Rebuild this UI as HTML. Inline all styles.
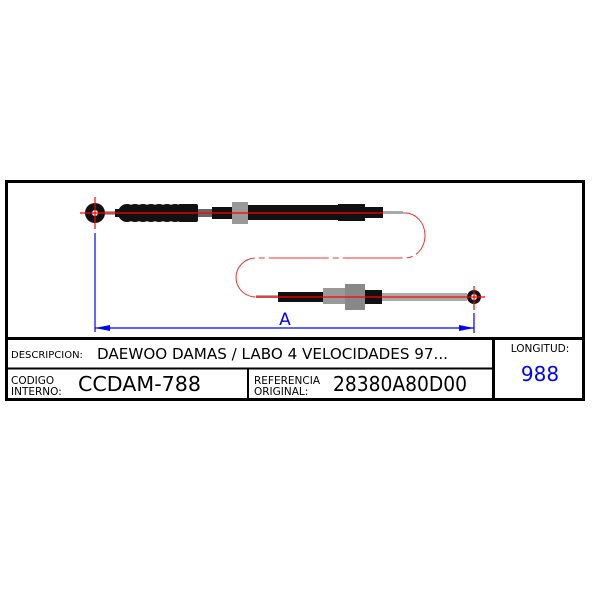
<!DOCTYPE html>
<html><head><style>
body{margin:0;background:#fff;width:601px;height:601px;overflow:hidden;font-family:"DejaVu Sans","Liberation Sans",sans-serif}
</style></head><body>
<svg width="601" height="601" viewBox="0 0 601 601" xmlns="http://www.w3.org/2000/svg">
<rect x="6.5" y="181.5" width="577" height="218" fill="none" stroke="#000" stroke-width="3"/>
<line x1="6" y1="338.5" x2="584" y2="338.5" stroke="#000" stroke-width="3"/>
<line x1="6" y1="368.5" x2="493" y2="368.5" stroke="#000" stroke-width="2"/>
<line x1="493.5" y1="338" x2="493.5" y2="400" stroke="#000" stroke-width="3"/>
<line x1="248" y1="368" x2="248" y2="400" stroke="#000" stroke-width="2"/>
<path d="M400 213 H405 A20 22.5 0 0 1 405 258 H256 A20 19.5 0 0 0 256 297" fill="none" stroke="#e33" stroke-width="1" stroke-dasharray="60 4 6 4"/>
<circle cx="95" cy="213" r="10" fill="#111"/>
<circle cx="95" cy="213" r="3" fill="#fff"/>
<rect x="105" y="211" width="12" height="4" fill="#aaa"/>
<rect x="115" y="209" width="6" height="8" fill="#111"/>
<g fill="#111">
<rect x="122" y="205" width="58" height="16" rx="3"/>
<circle cx="127" cy="213" r="9"/><circle cx="135" cy="213" r="9"/><circle cx="143" cy="213" r="9"/>
<circle cx="151" cy="213" r="9"/><circle cx="159" cy="213" r="9"/><circle cx="167" cy="213" r="9"/><circle cx="175" cy="213" r="9"/>
<rect x="178" y="204" width="20" height="18" rx="2"/>
</g>
<rect x="198" y="209" width="14" height="8" fill="#666"/>
<rect x="212" y="207" width="20" height="12" fill="#111"/>
<rect x="232" y="202" width="16" height="22" fill="#999"/>
<rect x="248" y="205" width="90" height="15" fill="#111"/>
<rect x="338" y="204" width="27" height="17" fill="#111"/>
<rect x="365" y="207" width="18" height="11" fill="#111"/>
<rect x="383" y="211" width="20" height="3" fill="#aaa"/>
<rect x="256" y="295" width="22" height="3" fill="#aaa"/>
<rect x="278" y="292" width="45" height="10" fill="#111"/>
<rect x="323" y="288" width="22" height="16" fill="#999"/>
<rect x="345" y="284" width="20" height="26" fill="#888"/>
<rect x="365" y="290" width="17" height="14" fill="#111"/>
<rect x="382" y="293" width="85" height="8" fill="#aaa"/>
<circle cx="474" cy="297" r="7" fill="#111"/>
<circle cx="474" cy="297" r="3" fill="#fff"/>
<g stroke="#f00" stroke-width="1.2">
<line x1="80" y1="213" x2="383" y2="213"/>
<line x1="95" y1="197" x2="95" y2="229"/>
<line x1="256" y1="297" x2="485" y2="297"/>
<line x1="474" y1="286" x2="474" y2="310"/>
</g>
<g stroke="#00f" stroke-width="1.2" fill="none">
<line x1="95" y1="233" x2="95" y2="332"/>
<line x1="474" y1="313" x2="474" y2="333"/>
<line x1="95" y1="328" x2="474" y2="328"/>
</g>
<path d="M95 328 L110 325 L110 331Z M474 328 L459 325 L459 331Z" fill="#00f"/>
<text x="285" y="325" font-size="17" fill="#00f" text-anchor="middle">A</text>
<text x="11" y="358" font-size="10" fill="#000">DESCRIPCION:</text>
<text x="97" y="359" font-size="15" fill="#000" textLength="351" lengthAdjust="spacingAndGlyphs">DAEWOO DAMAS / LABO 4 VELOCIDADES 97...</text>
<text x="11" y="384" font-size="10.5">CODIGO</text>
<text x="11" y="395" font-size="10.5">INTERNO:</text>
<text x="78" y="391" font-size="20" textLength="123" lengthAdjust="spacingAndGlyphs">CCDAM-788</text>
<text x="254" y="384" font-size="10.5">REFERENCIA</text>
<text x="254" y="395" font-size="10.5">ORIGINAL:</text>
<text x="333" y="391" font-size="20" textLength="134" lengthAdjust="spacingAndGlyphs">28380A80D00</text>
<text x="540" y="352" font-size="10.5" text-anchor="middle">LONGITUD:</text>
<text x="540" y="381" font-size="20" fill="#00f" text-anchor="middle">988</text>
</svg>
</body></html>
